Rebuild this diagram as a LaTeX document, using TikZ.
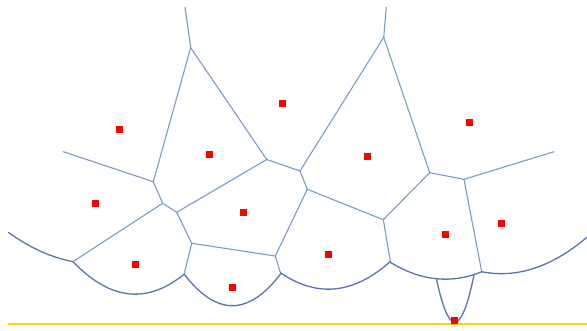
\documentclass[tikz,border=0pt]{standalone}
\usepackage{tikz}
\usepackage{xcolor}
\definecolor{edgeblue}{RGB}{122,155,198}
\definecolor{beachblue}{RGB}{88,118,172}
\definecolor{sweepgold}{RGB}{255,214,0}
\tikzset{
  site/.style={rectangle,fill=red,draw=none,minimum size=7pt,inner sep=0pt},
  vedge/.style={edgeblue,line width=1.1pt},
  beach/.style={beachblue,line width=1.3pt,smooth,samples=60},
}

\begin{document}
\begin{tikzpicture}[x=1pt,y=-1pt,line cap=round,line join=round]
  \useasboundingbox (0,0) rectangle (587,330);
  % sweep line
  \coordinate (swl) at (8.3,324);
  \coordinate (swr) at (587,324);
  \draw[sweepgold,line width=2pt,line cap=butt] (swl) -- (swr);
  % voronoi vertices
  \coordinate (tA) at (185,7.3);
  \coordinate (A) at (190.7,47.7);
  \coordinate (lB) at (63.3,151.7);
  \coordinate (B) at (153.3,181.7);
  \coordinate (C) at (266.7,159.5);
  \coordinate (D) at (162.7,203.3);
  \coordinate (E) at (176.7,212.3);
  \coordinate (F) at (300,171);
  \coordinate (tG) at (386.3,7.3);
  \coordinate (G) at (383.7,37.3);
  \coordinate (H) at (307.3,189.3);
  \coordinate (I) at (429.7,172.7);
  \coordinate (J) at (464,179.3);
  \coordinate (rJ) at (554,151.7);
  \coordinate (K) at (383.3,219.7);
  \coordinate (L) at (191.7,243.3);
  \coordinate (M) at (275.3,256);
  % breakpoints on the beach line
  \coordinate (O) at (73,261.6);
  \coordinate (N) at (184.2,274.2);
  \coordinate (P) at (280.7,273.7);
  \coordinate (Q) at (390.4,261.5);
  \coordinate (S) at (481.7,271.8);
  % edges
  \draw[vedge] (tA) -- (A);
  \draw[vedge] (A) -- (B);
  \draw[vedge] (A) -- (C);
  \draw[vedge] (lB) -- (B);
  \draw[vedge] (B) -- (D);
  \draw[vedge] (D) -- (E);
  \draw[vedge] (D) -- (O);
  \draw[vedge] (E) -- (C);
  \draw[vedge] (E) -- (L);
  \draw[vedge] (L) -- (N);
  \draw[vedge] (L) -- (M);
  \draw[vedge] (M) -- (P);
  \draw[vedge] (M) -- (H);
  \draw[vedge] (C) -- (F);
  \draw[vedge] (F) -- (H);
  \draw[vedge] (F) -- (G);
  \draw[vedge] (tG) -- (G);
  \draw[vedge] (G) -- (I);
  \draw[vedge] (H) -- (K);
  \draw[vedge] (K) -- (I);
  \draw[vedge] (K) -- (Q);
  \draw[vedge] (I) -- (J);
  \draw[vedge] (J) -- (rJ);
  \draw[vedge] (J) -- (S);
  % beach line arcs (directrix y=324)
  \draw[beach] plot[domain=8.3:73] (\x,{263.65-(\x-95.3)^2/241.4});
  \draw[beach] plot[domain=73:184.2] (\x,{294.15-(\x-135.3)^2/119.4});
  \draw[beach] plot[domain=184.2:280.7] (\x,{305.65-(\x-232.3)^2/73.4});
  \draw[beach] plot[domain=280.7:390.4] (\x,{289.15-(\x-328.3)^2/139.4});
  \draw[beach] plot[domain=390.4:481.7] (\x,{279.15-(\x-445.3)^2/179.4});
  \draw[beach] plot[domain=436.4:474.05,samples=80] (\x,{322.05-(\x-454.8)^2/7.8});
  \draw[beach] plot[domain=481.7:587] (\x,{273.65-(\x-501.3)^2/201.4});
  % sites
  \node[site] (s1) at (119.3,129.3) {};
  \node[site] (s2) at (209.3,154.3) {};
  \node[site] (s3) at (282.3,103.3) {};
  \node[site] (s4) at (95.3,203.3) {};
  \node[site] (s5) at (243.3,212.3) {};
  \node[site] (s6) at (367.3,156.3) {};
  \node[site] (s7) at (469.3,122.3) {};
  \node[site] (s8) at (135.3,264.3) {};
  \node[site] (s9) at (232.3,287.3) {};
  \node[site] (s10) at (328.3,254.3) {};
  \node[site] (s11) at (445.3,234.3) {};
  \node[site] (s12) at (501.3,223.3) {};
  \node[site] (s13) at (454.5,320.3) {};
\end{tikzpicture}
\end{document}
